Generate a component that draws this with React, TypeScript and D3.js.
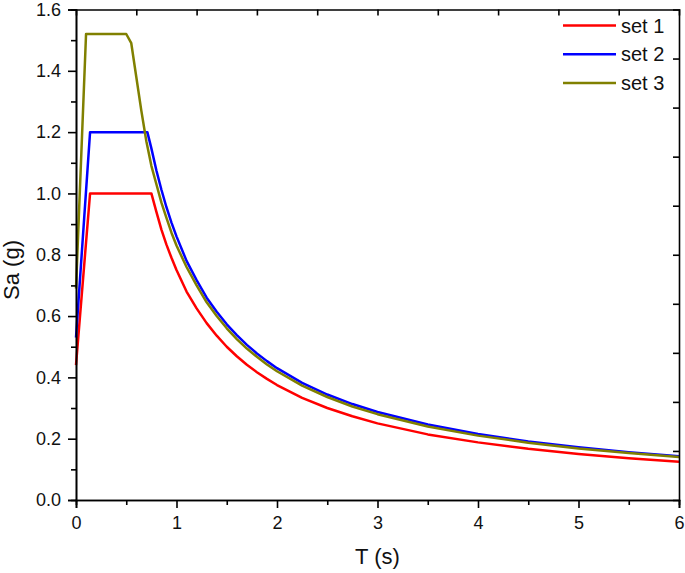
import React, { useEffect, useRef } from 'react';
import * as d3 from 'd3';

// periods (s) and spectral accelerations (g)
const set1T = [0, 0.14, 0.75, 0.8, 0.85, 0.9, 0.95, 1.0, 1.1, 1.2, 1.3, 1.4, 1.5, 1.6, 1.7, 1.8, 1.9, 2.0, 2.25, 2.5, 2.75, 3.0, 3.5, 4.0, 4.5, 5.0, 5.5, 6.0];
const set1Sa = [0.44, 1.0, 1.0, 0.94, 0.882, 0.833, 0.79, 0.75, 0.68, 0.625, 0.577, 0.536, 0.5, 0.469, 0.441, 0.417, 0.395, 0.375, 0.333, 0.3, 0.273, 0.25, 0.214, 0.188, 0.167, 0.15, 0.136, 0.125];

const set2T = [0, 0.14, 0.71, 0.75, 0.8, 0.85, 0.9, 0.95, 1.0, 1.1, 1.2, 1.3, 1.4, 1.5, 1.6, 1.7, 1.8, 1.9, 2.0, 2.25, 2.5, 2.75, 3.0, 3.5, 4.0, 4.5, 5.0, 5.5, 6.0];
const set2Sa = [0.53, 1.2, 1.2, 1.147, 1.075, 1.012, 0.955, 0.905, 0.86, 0.78, 0.717, 0.66, 0.614, 0.573, 0.538, 0.506, 0.478, 0.453, 0.43, 0.382, 0.344, 0.313, 0.287, 0.246, 0.215, 0.191, 0.172, 0.156, 0.143];

const set3T = [0, 0.1, 0.5, 0.55, 0.6, 0.65, 0.7, 0.75, 0.8, 0.85, 0.9, 0.95, 1.0, 1.1, 1.2, 1.3, 1.4, 1.5, 1.6, 1.7, 1.8, 1.9, 2.0, 2.25, 2.5, 2.75, 3.0, 3.5, 4.0, 4.5, 5.0, 5.5, 6.0];
const set3Sa = [0.69, 1.52, 1.52, 1.49, 1.38, 1.27, 1.17, 1.09, 1.03, 0.97, 0.92, 0.872, 0.83, 0.76, 0.70, 0.645, 0.60, 0.56, 0.525, 0.494, 0.467, 0.442, 0.42, 0.373, 0.336, 0.305, 0.28, 0.24, 0.21, 0.187, 0.168, 0.153, 0.14];

const seriesNames = ['set 1', 'set 2', 'set 3'];
const seriesColors = ['#ff0000', '#0000ff', '#808000'];

const xTicks = [0, 1, 2, 3, 4, 5, 6];
const yTicks = [0, 0.2, 0.4, 0.6, 0.8, 1.0, 1.2, 1.4, 1.6];

const App: React.FC = () => {
  const svgRef = useRef<SVGSVGElement>(null);

  useEffect(() => {
    if (!svgRef.current) return;
    const svg = d3.select(svgRef.current);
    svg.selectAll('*').remove();

    const W = 685, H = 573;
    const margin = { top: 9.5, right: 6, bottom: 73, left: 76 };
    const width = W - margin.left - margin.right;
    const height = H - margin.top - margin.bottom;
    const font = "'Liberation Sans', Arial, sans-serif";

    const g = svg.append('g').attr('transform', `translate(${margin.left},${margin.top})`);

    const x = d3.scaleLinear().domain([0, 6]).range([0, width]);
    const y = d3.scaleLinear().domain([0, 1.6]).range([height, 0]);

    const series = [
      set1T.map((t, i) => [t, set1Sa[i]] as [number, number]),
      set2T.map((t, i) => [t, set2Sa[i]] as [number, number]),
      set3T.map((t, i) => [t, set3Sa[i]] as [number, number]),
    ];

    const line = d3.line<[number, number]>()
      .x(d => x(d[0]))
      .y(d => y(d[1]));

    series.forEach((s, i) => {
      g.append('path')
        .datum(s)
        .attr('fill', 'none')
        .attr('stroke', seriesColors[i])
        .attr('stroke-width', 2.5)
        .attr('stroke-linejoin', 'round')
        .attr('d', line);
    });

    // minor ticks first (own groups), then major axes
    g.append('g').attr('transform', `translate(0,${height})`)
      .call(d3.axisBottom(x).tickValues(d3.range(0.5, 6, 1)).tickSize(5).tickFormat(() => ''));
    g.append('g')
      .call(d3.axisLeft(y).tickValues(d3.range(0.1, 1.6, 0.2)).tickSize(5).tickFormat(() => ''));

    // top and right axes with inward ticks
    g.append('g')
      .call(d3.axisTop(x).tickValues(d3.range(1, 10).map(k => 0.6 * k)).tickSize(-6).tickFormat(() => ''));
    g.append('g').attr('transform', `translate(${width},0)`)
      .call(d3.axisRight(y).tickValues(d3.range(1, 10).map(k => 0.16 * k)).tickSize(-6).tickFormat(() => ''));

    g.append('g').attr('transform', `translate(0,${height})`)
      .call(d3.axisBottom(x).tickValues(xTicks).tickSize(8).tickPadding(8).tickFormat(d3.format('d')));
    g.append('g')
      .call(d3.axisLeft(y).tickValues(yTicks).tickSize(8).tickPadding(7).tickFormat(d3.format('.1f')));

    svg.selectAll('.domain').attr('stroke', '#000').attr('stroke-width', 1.6);
    svg.selectAll('.tick line').attr('stroke', '#000').attr('stroke-width', 1.6);
    svg.selectAll('.tick text')
      .style('font-family', font)
      .style('font-size', '18px')
      .attr('fill', '#111');

    // axis titles
    g.append('text')
      .attr('x', width / 2)
      .attr('y', height + 64)
      .attr('text-anchor', 'middle')
      .style('font-family', font)
      .style('font-size', '22px')
      .attr('fill', '#111')
      .text('T (s)');

    g.append('text')
      .attr('transform', `translate(${19 - margin.left},${270 - margin.top}) rotate(-90)`)
      .attr('text-anchor', 'middle')
      .style('font-family', font)
      .style('font-size', '22px')
      .attr('fill', '#111')
      .text('Sa (g)');

    // legend
    const legend = g.append('g').attr('transform', `translate(${563 - margin.left},${25.5 - margin.top})`);
    seriesNames.forEach((name, i) => {
      const row = legend.append('g').attr('transform', `translate(0,${i * 28.7})`);
      row.append('line')
        .attr('x1', 0).attr('x2', 53)
        .attr('y1', 0).attr('y2', 0)
        .attr('stroke', seriesColors[i])
        .attr('stroke-width', 2.5);
      row.append('text')
        .attr('x', 58)
        .attr('y', 0)
        .attr('dy', '0.35em')
        .style('font-family', font)
        .style('font-size', '20px')
        .attr('fill', '#111')
        .text(name);
    });
  }, []);

  return (
    <svg ref={svgRef} width={685} height={573}
      style={{ position: 'absolute', left: 0, top: 0, background: '#fff' }} />
  );
};

export default App;
